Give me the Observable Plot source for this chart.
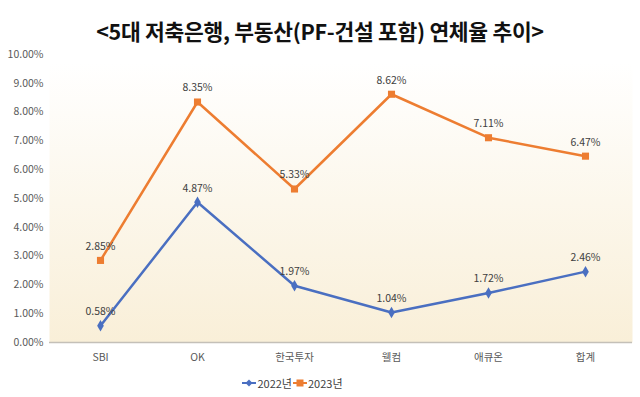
<!DOCTYPE html>
<html>
<head>
<meta charset="utf-8">
<script src="https://cdn.jsdelivr.net/npm/d3@7"></script>
<script src="https://cdn.jsdelivr.net/npm/@observablehq/plot@0.6"></script>
<style>
  html, body { margin: 0; padding: 0; background: #fff; }
  body { width: 640px; height: 397px; overflow: hidden; font-family: "Noto Sans CJK KR", "Noto Sans", sans-serif; }
  #title { height: 44px; line-height: 62px; text-align: center; font-size: 21.5px; font-weight: bold; color: #111; letter-spacing: -0.3px; }
  #chart svg { display: block; }
  #legend { height: 29px; display: flex; justify-content: center; align-items: center; font-size: 11px; color: #404040; padding-right: 56px; }
  #legend span { display: inline-flex; align-items: center; }
</style>
</head>
<body>
<div id="title">&lt;5대 저축은행, 부동산(PF-건설 포함) 연체율 추이&gt;</div>
<div id="chart"></div>
<div id="legend"></div>
<script>
const categories = ["SBI", "OK", "한국투자", "웰컴", "애큐온", "합계"];
const rate2022 = [0.58, 4.87, 1.97, 1.04, 1.72, 2.46];
const rate2023 = [2.85, 8.35, 5.33, 8.62, 7.11, 6.47];
const yTicks = [0, 1, 2, 3, 4, 5, 6, 7, 8, 9, 10];
const seriesNames = ["2022년", "2023년"];
const seriesColors = ["#4a6fc1", "#ed7d31"];

const rows2022 = categories.map((c, i) => ({cat: c, v: rate2022[i]}));
const rows2023 = categories.map((c, i) => ({cat: c, v: rate2023[i]}));
const fmt = v => v.toFixed(2) + "%";

const plot = Plot.plot({
  width: 640,
  height: 324,
  marginTop: 10,
  marginBottom: 26,
  marginLeft: 49,
  marginRight: 4,
  style: {fontFamily: "'Noto Sans CJK KR', sans-serif", fontSize: "10.5px", color: "#595959", background: "transparent"},
  x: {type: "point", domain: categories, padding: 0.5, label: null, tickSize: 0, tickPadding: 11},
  y: {domain: [0, 10], ticks: yTicks, tickFormat: fmt, label: null, tickSize: 0, tickPadding: 6},
  marks: [
    Plot.frame({fill: "url(#bgGrad)", stroke: null, insetTop: 8, insetRight: 4}),
    Plot.ruleY([0], {stroke: "#c4c0b8", strokeWidth: 1.5, insetRight: 4}),
    Plot.line(rows2022, {x: "cat", y: "v", stroke: seriesColors[0], strokeWidth: 2.5}),
    Plot.line(rows2023, {x: "cat", y: "v", stroke: seriesColors[1], strokeWidth: 2.5}),
    Plot.dot(rows2022, {x: "cat", y: "v", symbol: "diamond", r: 3.5, fill: seriesColors[0], stroke: null}),
    Plot.dot(rows2023, {x: "cat", y: "v", symbol: "square", r: 4, fill: seriesColors[1], stroke: null}),
    Plot.text(rows2022, {x: "cat", y: "v", text: d => fmt(d.v), dy: -14, fill: "#404040", fontSize: 10.5}),
    Plot.text(rows2023, {x: "cat", y: "v", text: d => fmt(d.v), dy: -14, fill: "#404040", fontSize: 10.5})
  ]
});

plot.insertAdjacentHTML("afterbegin",
  '<defs><linearGradient id="bgGrad" x1="0" y1="0" x2="0" y2="1">' +
  '<stop offset="0" stop-color="#ffffff"/>' +
  '<stop offset="1" stop-color="#f9efd8"/>' +
  '</linearGradient></defs>');

document.getElementById("chart").appendChild(plot);

const legend = document.getElementById("legend");
seriesNames.forEach((name, i) => {
  const span = document.createElement("span");
  const sym = i === 0
    ? '<polygon points="8,1.5 11.5,5 8,8.5 4.5,5" fill="' + seriesColors[i] + '"/>'
    : '<rect x="4.5" y="1.5" width="7" height="7" fill="' + seriesColors[i] + '"/>';
  span.innerHTML = '<svg width="16" height="10"><line x1="1" y1="5" x2="15" y2="5" stroke="' + seriesColors[i] + '" stroke-width="2"/>' + sym + '</svg>' + name;
  legend.appendChild(span);
});
</script>
</body>
</html>
